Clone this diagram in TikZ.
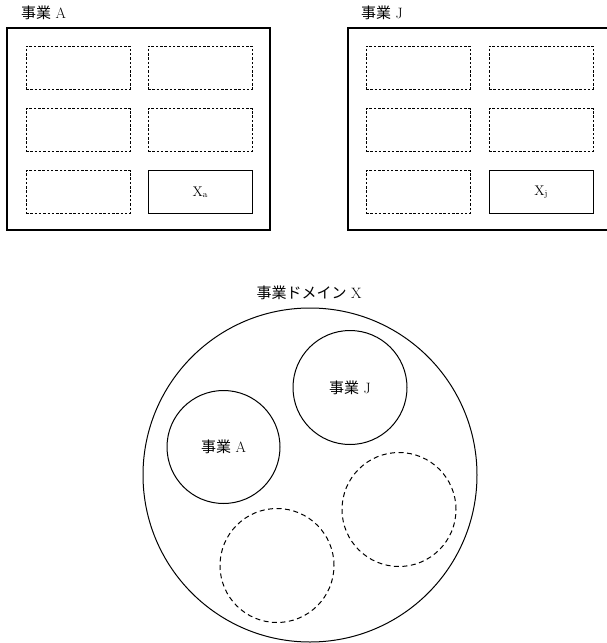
\documentclass[tikz,border=0pt]{standalone}
\usepackage{fontspec}
\newfontfamily\cjk{Noto Sans CJK JP}
\begin{document}
\begin{tikzpicture}[x=1pt,y=-1pt,
  frame/.style={draw,line width=1.1pt},
  cell/.style={draw,dashed,line width=0.5pt,dash pattern=on 2.5pt off 1.8pt,minimum width=104pt,minimum height=43pt,inner sep=0pt},
  solidcell/.style={draw,line width=0.7pt,minimum width=104pt,minimum height=43pt,inner sep=0pt,font=\fontsize{14}{16}\selectfont},
  lbl/.style={font=\fontsize{15}{17}\selectfont,inner sep=0pt},
  bizc/.style={draw,circle,line width=1pt,minimum size=114pt,inner sep=0pt,font=\fontsize{15}{17}\selectfont},
  emptyc/.style={draw,circle,line width=1pt,dash pattern=on 5pt off 3.5pt,minimum size=114pt,inner sep=0pt}]
\useasboundingbox (0,0) rectangle (607,643);
\clip (0,0) rectangle (607,643);
% left frame
\node[lbl,anchor=west] (tA) at (21,13) {{\cjk 事業}\hspace{0.3em}A};
\node[frame,draw,minimum width=263pt,minimum height=202pt,inner sep=0pt] (fA) at (138.5,129) {};
\node[cell] (a11) at (78,67.5) {};
\node[cell] (a12) at (200,67.5) {};
\node[cell] (a21) at (78,130) {};
\node[cell] (a22) at (200,130) {};
\node[cell] (a31) at (78,192) {};
\node[solidcell] (a32) at (200,192) {X\raisebox{-0.15ex}{\fontsize{9}{10}\selectfont a}};
% right frame
\node[lbl,anchor=west] (tJ) at (361,13) {{\cjk 事業}\hspace{0.3em}J};
\node[frame,draw,minimum width=263pt,minimum height=202pt,inner sep=0pt] (fJ) at (479.5,129) {};
\node[cell] (j11) at (418,67.5) {};
\node[cell] (j12) at (541,67.5) {};
\node[cell] (j21) at (418,130) {};
\node[cell] (j22) at (541,130) {};
\node[cell] (j31) at (418,192) {};
\node[solidcell] (j32) at (541,192) {X\raisebox{-0.15ex}{\fontsize{9}{10}\selectfont j}};
% domain
\node[lbl] (tX) at (309,293) {{\cjk 事業ドメイン}\hspace{0.3em}X};
\node[draw,circle,line width=1pt,minimum size=334pt,inner sep=0pt] (dom) at (310,475) {};
\node[bizc] (cJ) at (350,387.5) {{\cjk 事業}\hspace{0.3em}J};
\node[bizc,minimum size=113pt] (cA) at (223.5,447) {{\cjk 事業}\hspace{0.3em}A};
\node[emptyc] (e1) at (399,509.5) {};
\node[emptyc] (e2) at (277,565.5) {};
\end{tikzpicture}
\end{document}
